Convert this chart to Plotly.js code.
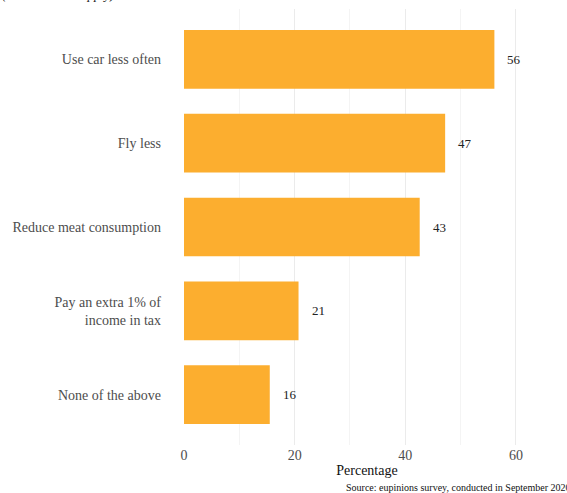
<!DOCTYPE html>
<html>
<head>
<meta charset="utf-8">
<script src="https://cdn.plot.ly/plotly-3.0.1.min.js"></script>
<style>
html,body{margin:0;padding:0;overflow:hidden;background:#fff;}
#chart{width:567px;height:493px;}
</style>
</head>
<body>
<div id="chart"></div>
<script>
// Data (bottom to top)
const categories = ["None of the above", "Pay an extra 1% of<br>income in tax", "Reduce meat consumption", "Fly less", "Use car less often"];
const values = [15.5, 20.7, 42.6, 47.2, 56.1];
const valueLabels = ["16", "21", "43", "47", "56"];
const xTickVals = [0, 20, 40, 60];
const xTickText = ["0", "20", "40", "60"];

const serif = "Liberation Serif";

const trace = {
  type: "bar",
  orientation: "h",
  y: categories,
  x: values,
  width: 0.7,
  marker: {color: "#FCAE2F", line: {width: 0}},
  hoverinfo: "skip"
};

const annotations = categories.map((c, i) => ({
  x: values[i], y: c, xref: "x", yref: "y",
  text: valueLabels[i], showarrow: false,
  xanchor: "left", xshift: 11,
  font: {family: serif, size: 13, color: "#222"}
}));

annotations.push({
  xref: "paper", yref: "paper", x: -0.503, y: 1.0, yshift: 5,
  xanchor: "left", yanchor: "bottom",
  text: "<i>(Select all that apply)</i>", showarrow: false,
  font: {family: serif, size: 13, color: "#222"}
});
annotations.push({
  xref: "paper", yref: "paper", x: 0.437, y: 0, yshift: -50,
  xanchor: "left", yanchor: "bottom",
  text: "Source: eupinions survey, conducted in September 2020", showarrow: false,
  font: {family: serif, size: 10, color: "#111"}
});

const layout = {
  width: 567, height: 493,
  margin: {l: 184, r: 17, t: 9, b: 48, pad: 0},
  paper_bgcolor: "#fff", plot_bgcolor: "#fff",
  showlegend: false,
  font: {family: serif},
  xaxis: {
    range: [0, 66.15],
    tickvals: xTickVals, ticktext: xTickText,
    showgrid: true, gridcolor: "#EBEBEB", gridwidth: 1,
    minor: {dtick: 10, tick0: 0, showgrid: true, gridcolor: "#F4F4F4", gridwidth: 1},
    zeroline: false, showline: false, ticks: "",
    ticklabelstandoff: 0,
    tickfont: {family: serif, size: 14, color: "#4D4D4D"},
    title: {text: "Percentage", font: {family: serif, size: 14, color: "#111"}, standoff: 3},
    fixedrange: true
  },
  yaxis: {
    type: "category",
    categoryorder: "array", categoryarray: categories,
    range: [-0.6, 4.6],
    showgrid: false, zeroline: false, showline: false, ticks: "",
    ticklabelstandoff: 22,
    tickfont: {family: serif, size: 14, color: "#4D4D4D"},
    fixedrange: true
  },
  annotations: annotations
};

Plotly.newPlot("chart", [trace], layout, {displayModeBar: false, staticPlot: true});
</script>
</body>
</html>
